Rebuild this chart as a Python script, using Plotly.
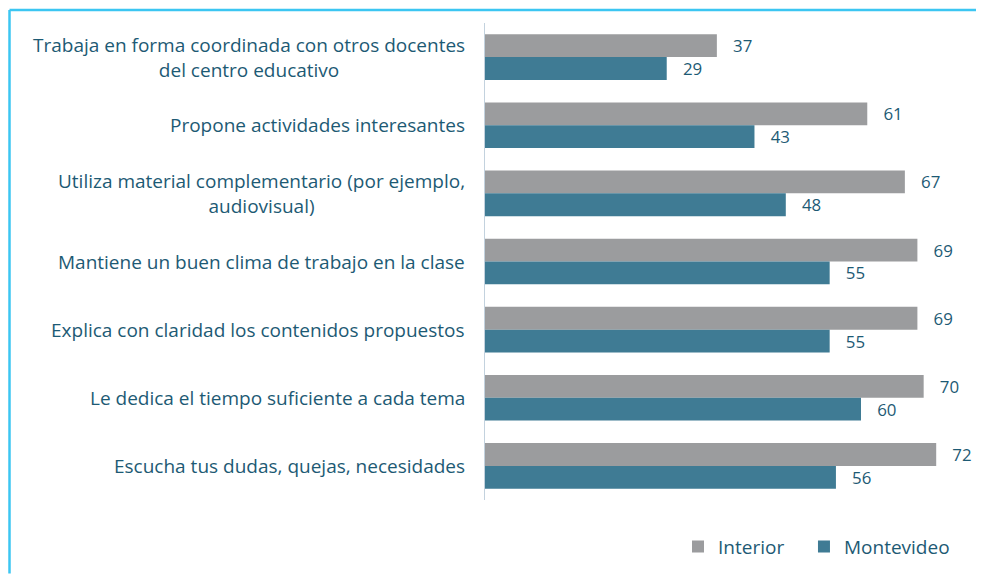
import plotly.graph_objects as go

categories = [
    "Trabaja en forma coordinada con otros docentes<br>del centro educativo",
    "Propone actividades interesantes",
    "Utiliza material complementario (por ejemplo,<br>audiovisual)",
    "Mantiene un buen clima de trabajo en la clase",
    "Explica con claridad los contenidos propuestos",
    "Le dedica el tiempo suficiente a cada tema",
    "Escucha tus dudas, quejas, necesidades",
]
interior = [37, 61, 67, 69, 69, 70, 72]
montevideo = [29, 43, 48, 55, 55, 60, 56]
series_names = ["Interior", "Montevideo"]

TEXT = "#1d5a74"
FONT = "Open Sans"
NB = "\u00a0\u00a0\u00a0"

W, H = 968, 570
L, R, T, B = 477, 21, 15, 74
PW, PH = W - L - R, H - T - B

fig = go.Figure()
fig.add_trace(go.Bar(
    y=categories, x=interior, name=series_names[0] + NB, orientation="h",
    marker=dict(color="#9b9c9e", line=dict(width=0)),
    text=[NB + str(v) for v in interior], textposition="outside",
    textfont=dict(family=FONT, size=17, color=TEXT), cliponaxis=False,
))
fig.add_trace(go.Bar(
    y=categories, x=montevideo, name=series_names[1], orientation="h",
    marker=dict(color="#3f7b94", line=dict(width=0)),
    text=[NB + str(v) for v in montevideo], textposition="outside",
    textfont=dict(family=FONT, size=17, color=TEXT), cliponaxis=False,
))

annotations = [
    dict(x=0, y=cat, xref="x", yref="y", text=cat, showarrow=False,
         xanchor="right", yanchor="middle", xshift=-18, align="center",
         font=dict(family=FONT, size=19, color=TEXT))
    for cat in categories
]

bx = (1.5 - L) / PW
by = (PH + T - 2) / PH
fig.update_layout(
    width=W, height=H,
    margin=dict(l=L, r=R, t=T, b=B),
    paper_bgcolor="white", plot_bgcolor="white",
    barmode="group", bargap=0.33, bargroupgap=0,
    xaxis=dict(range=[0, 75], showgrid=False, zeroline=False,
               showticklabels=False, showline=False, ticks=""),
    yaxis=dict(autorange="reversed", showgrid=False, zeroline=False,
               showticklabels=False, showline=True, linecolor="#c3d2de",
               linewidth=1, ticks=""),
    showlegend=True,
    legend=dict(orientation="h", x=1.0, xanchor="right", y=-0.098,
                yanchor="middle", font=dict(family=FONT, size=19, color=TEXT),
                traceorder="normal"),
    annotations=annotations,
    shapes=[
        dict(type="line", xref="paper", yref="paper",
             x0=bx, x1=bx, y0=-B / PH, y1=by,
             line=dict(color="#3cc6f2", width=2.5)),
        dict(type="line", xref="paper", yref="paper",
             x0=bx, x1=(W - L) / PW, y0=by, y1=by,
             line=dict(color="#3cc6f2", width=2.5)),
    ],
)

fig.write_html("out.html")
